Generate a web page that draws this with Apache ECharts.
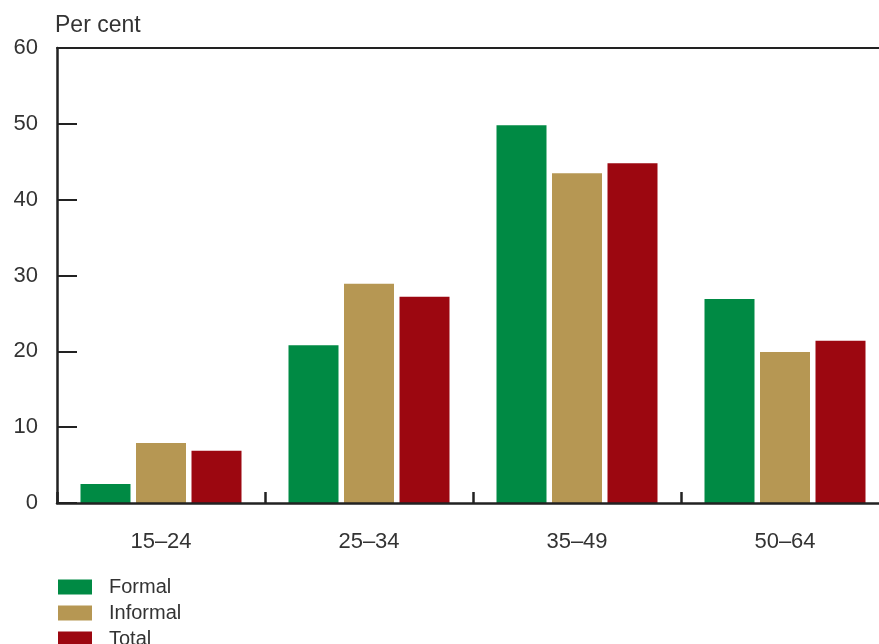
<!DOCTYPE html>
<html><head><meta charset="utf-8">
<script src="https://cdn.jsdelivr.net/npm/echarts@6/dist/echarts.min.js"></script>
<style>html,body{margin:0;padding:0;background:#fff;overflow:hidden;width:879px;height:644px}#c{width:889px;height:644px}</style>
</head><body><div id="c"></div>
<script>
const categories = ['15–24', '25–34', '35–49', '50–64'];
const formal = [2.5, 20.8, 49.8, 26.9];
const informal = [7.9, 28.9, 43.5, 19.9];
const total = [6.9, 27.2, 44.8, 21.4];
const yTicks = [0, 10, 20, 30, 40, 50, 60];

const font = 'Liberation Sans, Arial, sans-serif';
const chart = echarts.init(document.getElementById('c'));
chart.setOption({
  animation: false,
  textStyle: {fontFamily: font},
  title: {text: 'Per cent', left: 50, top: 9, textStyle: {fontSize: 23, fontWeight: 'normal', color: '#333', fontFamily: font}},
  legend: {
    orient: 'vertical', left: 58, top: 577, height: 100, padding: 0,
    itemWidth: 34, itemHeight: 15, itemGap: 6,
    icon: 'rect', textStyle: {fontSize: 20, lineHeight: 20, color: '#333', padding: [0, 0, 0, 12]},
    data: ['Formal', 'Informal', 'Total']
  },
  grid: {left: 57, top: 48, width: 832, height: 455, containLabel: false},
  xAxis: [{
    type: 'category', data: categories, position: 'bottom',
    axisLine: {lineStyle: {color: '#222', width: 2.5}},
    axisTick: {show: true, inside: true, length: 11, interval: 0, lineStyle: {color: '#222', width: 2.5}},
    axisLabel: {fontSize: 22, color: '#333', margin: 28},
    z: 5
  }, {
    type: 'category', data: categories, position: 'top',
    axisLine: {lineStyle: {color: '#222', width: 2}},
    axisTick: {show: false}, axisLabel: {show: false}
  }],
  yAxis: {
    type: 'value', min: yTicks[0], max: yTicks[yTicks.length - 1], interval: 10,
    axisLine: {show: true, lineStyle: {color: '#222', width: 2.5}},
    axisTick: {show: true, inside: true, length: 20, lineStyle: {color: '#222', width: 2}},
    axisLabel: {fontSize: 22, color: '#333', margin: 19},
    splitLine: {show: false}
  },
  series: [
    {name: 'Formal', type: 'bar', data: formal, barWidth: 50, barGap: '11%', itemStyle: {color: '#008A44'}},
    {name: 'Informal', type: 'bar', data: informal, barWidth: 50, barGap: '11%', itemStyle: {color: '#B69753'}},
    {name: 'Total', type: 'bar', data: total, barWidth: 50, barGap: '11%', itemStyle: {color: '#9C0710'}}
  ]
});
</script></body></html>
